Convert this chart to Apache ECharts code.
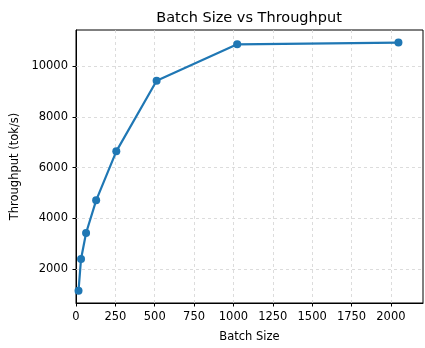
<!DOCTYPE html>
<html>
<head>
<meta charset="utf-8">
<script src="https://cdn.jsdelivr.net/npm/echarts@6/dist/echarts.min.js"></script>
<style>
  html, body { margin: 0; padding: 0; background: #fff; }
  #chart { width: 425px; height: 348px; }
</style>
</head>
<body>
<div id="chart"></div>
<script>
const batchSizes = [16, 32, 64, 128, 256, 512, 1024, 2048];
const throughput = [1160, 2410, 3430, 4715, 6640, 9420, 10850, 10920];
const xTicks = [0, 250, 500, 750, 1000, 1250, 1500, 1750, 2000];
const yTicks = [2000, 4000, 6000, 8000, 10000];
const xRange = [0, 2204];
const yRange = [676, 11414];

const FONT = 'DejaVu Sans';
const gridLine = { color: '#d3d3d3', width: 0.8, type: [3, 3] };

const markData = xTicks.filter(v => v > xRange[0]).map(v => ({ xAxis: v }))
  .concat(yTicks.map(v => ({ yAxis: v })));

const chart = echarts.init(document.getElementById('chart'), null, { renderer: 'canvas' });
chart.setOption({
  animation: false,
  backgroundColor: '#fff',
  title: {
    text: 'Batch Size vs Throughput',
    left: 244, top: 6, textAlign: 'center',
    textStyle: { fontFamily: FONT, fontSize: 14.5, fontWeight: 'normal', color: '#000' }
  },
  grid: {
    left: 76, top: 30, width: 347, height: 274,
    show: true, borderColor: '#000', borderWidth: 1, backgroundColor: 'transparent'
  },
  xAxis: {
    type: 'value', min: xRange[0], max: xRange[1],
    name: 'Batch Size', nameLocation: 'middle', nameGap: 28,
    nameTextStyle: { fontFamily: FONT, fontSize: 11.5, color: '#000' },
    axisLine: { show: true, lineStyle: { color: '#000', width: 1 } },
    axisTick: { show: true, length: 3.5, customValues: xTicks, lineStyle: { color: '#000' } },
    axisLabel: { customValues: xTicks, formatter: v => String(v), fontFamily: FONT, fontSize: 11.5, color: '#000', margin: 8 },
    splitLine: { show: false }
  },
  yAxis: {
    type: 'value', min: yRange[0], max: yRange[1],
    name: 'Throughput (tok/s)', nameLocation: 'middle', nameGap: 48, nameRotate: 90,
    nameTextStyle: { fontFamily: FONT, fontSize: 11.5, color: '#000' },
    axisLine: { show: true, lineStyle: { color: '#000', width: 1 } },
    axisTick: { show: true, length: 3.5, customValues: yTicks, lineStyle: { color: '#000' } },
    axisLabel: { customValues: yTicks, formatter: v => String(v), fontFamily: FONT, fontSize: 11.5, color: '#000', margin: 8 },
    splitLine: { show: false }
  },
  series: [{
    type: 'line',
    data: batchSizes.map((b, i) => [b, throughput[i]]),
    color: '#1f77b4',
    lineStyle: { width: 2.2, color: '#1f77b4' },
    symbol: 'circle', symbolSize: 8,
    itemStyle: { color: '#1f77b4' },
    z: 3,
    markLine: {
      silent: true, symbol: ['none', 'none'],
      label: { show: false },
      lineStyle: gridLine,
      z: 1,
      data: markData
    }
  }]
});
</script>
</body>
</html>
